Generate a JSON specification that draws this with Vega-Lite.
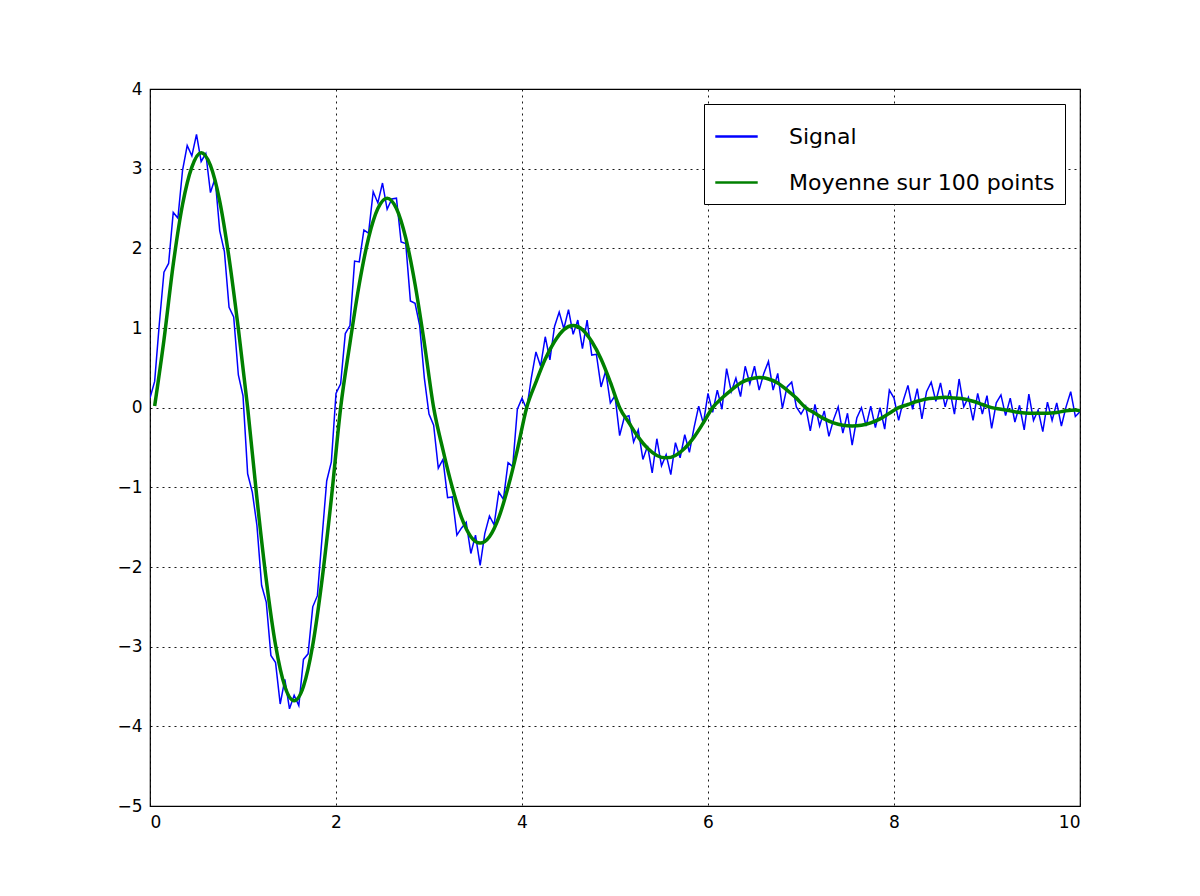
{
  "$schema": "https://vega.github.io/schema/vega-lite/v6.json",
  "autosize": "none",
  "width": 930,
  "height": 717,
  "padding": {"left": 150, "top": 89, "right": 120, "bottom": 90},
  "background": "white",
  "config": {
    "view": {"stroke": "black", "strokeWidth": 1.2},
    "font": "DejaVu Sans",
    "axis": {
      "labelFont": "DejaVu Sans", "labelFontSize": 17, "labelColor": "black",
      "domain": false, "ticks": false, "labelPadding": 8,
      "grid": true, "gridColor": "black", "gridDash": [2, 4], "gridOpacity": 0.9,
      "title": null
    }
  },
  "datasets": {
    "signal": [
      {"t":0,"v":0.12},{"t":0.05,"v":0.33},{"t":0.1,"v":1.05},{"t":0.15,"v":1.70},{"t":0.2,"v":1.81},{"t":0.25,"v":2.45},{"t":0.3,"v":2.38},{"t":0.35,"v":2.98},{"t":0.4,"v":3.29},{"t":0.45,"v":3.16},{"t":0.5,"v":3.43},{"t":0.55,"v":3.09},{"t":0.6,"v":3.19},{"t":0.65,"v":2.70},{"t":0.7,"v":2.88},{"t":0.75,"v":2.22},{"t":0.8,"v":1.96},{"t":0.85,"v":1.26},{"t":0.9,"v":1.14},{"t":0.95,"v":0.41},
      {"t":1.0,"v":0.15},{"t":1.05,"v":-0.83},{"t":1.1,"v":-1.06},{"t":1.15,"v":-1.48},{"t":1.2,"v":-2.23},{"t":1.25,"v":-2.44},{"t":1.3,"v":-3.11},{"t":1.35,"v":-3.2},{"t":1.4,"v":-3.72},{"t":1.45,"v":-3.41},{"t":1.5,"v":-3.78},{"t":1.55,"v":-3.61},{"t":1.6,"v":-3.74},{"t":1.65,"v":-3.16},{"t":1.7,"v":-3.09},{"t":1.75,"v":-2.5},{"t":1.8,"v":-2.36},{"t":1.85,"v":-1.63},{"t":1.9,"v":-0.92},{"t":1.95,"v":-0.68},
      {"t":2.0,"v":0.18},{"t":2.05,"v":0.30},{"t":2.1,"v":0.93},{"t":2.15,"v":1.03},{"t":2.2,"v":1.84},{"t":2.25,"v":1.83},{"t":2.3,"v":2.23},{"t":2.35,"v":2.19},{"t":2.4,"v":2.71},{"t":2.45,"v":2.57},{"t":2.5,"v":2.82},{"t":2.55,"v":2.49},{"t":2.6,"v":2.62},{"t":2.65,"v":2.63},{"t":2.7,"v":2.08},{"t":2.75,"v":2.06},{"t":2.8,"v":1.34},{"t":2.85,"v":1.31},{"t":2.9,"v":1.03},{"t":2.95,"v":0.37},
      {"t":3.0,"v":-0.08},{"t":3.05,"v":-0.22},{"t":3.1,"v":-0.76},{"t":3.15,"v":-0.65},{"t":3.2,"v":-1.13},{"t":3.25,"v":-1.12},{"t":3.3,"v":-1.6},{"t":3.35,"v":-1.51},{"t":3.4,"v":-1.44},{"t":3.45,"v":-1.83},{"t":3.5,"v":-1.6},{"t":3.55,"v":-1.98},{"t":3.6,"v":-1.58},{"t":3.65,"v":-1.36},{"t":3.7,"v":-1.47},{"t":3.75,"v":-1.06},{"t":3.8,"v":-1.15},{"t":3.85,"v":-0.69},{"t":3.9,"v":-0.74},{"t":3.95,"v":-0.02},
      {"t":4.0,"v":0.12},{"t":4.05,"v":-0.02},{"t":4.1,"v":0.37},{"t":4.15,"v":0.70},{"t":4.2,"v":0.52},{"t":4.25,"v":0.89},{"t":4.3,"v":0.60},{"t":4.35,"v":1.02},{"t":4.4,"v":1.2},{"t":4.45,"v":0.99},{"t":4.5,"v":1.23},{"t":4.55,"v":0.92},{"t":4.6,"v":1.10},{"t":4.65,"v":0.74},{"t":4.7,"v":1.10},{"t":4.75,"v":0.66},{"t":4.8,"v":0.67},{"t":4.85,"v":0.26},{"t":4.9,"v":0.46},{"t":4.95,"v":0.06},
      {"t":5.0,"v":0.15},{"t":5.05,"v":-0.35},{"t":5.1,"v":-0.12},{"t":5.15,"v":-0.10},{"t":5.2,"v":-0.43},{"t":5.25,"v":-0.28},{"t":5.3,"v":-0.65},{"t":5.35,"v":-0.48},{"t":5.4,"v":-0.82},{"t":5.45,"v":-0.39},{"t":5.5,"v":-0.73},{"t":5.55,"v":-0.59},{"t":5.6,"v":-0.84},{"t":5.65,"v":-0.44},{"t":5.7,"v":-0.63},{"t":5.75,"v":-0.34},{"t":5.8,"v":-0.56},{"t":5.85,"v":-0.25},{"t":5.9,"v":0.02},{"t":5.95,"v":-0.20},
      {"t":6.0,"v":0.18},{"t":6.05,"v":-0.06},{"t":6.1,"v":0.22},{"t":6.15,"v":-0.02},{"t":6.2,"v":0.49},{"t":6.25,"v":0.20},{"t":6.3,"v":0.37},{"t":6.35,"v":0.14},{"t":6.4,"v":0.52},{"t":6.45,"v":0.30},{"t":6.5,"v":0.52},{"t":6.55,"v":0.22},{"t":6.6,"v":0.43},{"t":6.65,"v":0.58},{"t":6.7,"v":0.22},{"t":6.75,"v":0.43},{"t":6.8,"v":-0.01},{"t":6.85,"v":0.26},{"t":6.9,"v":0.32},{"t":6.95,"v":0.01},
      {"t":7.0,"v":-0.08},{"t":7.05,"v":0.02},{"t":7.1,"v":-0.29},{"t":7.15,"v":0.04},{"t":7.2,"v":-0.23},{"t":7.25,"v":-0.04},{"t":7.3,"v":-0.36},{"t":7.35,"v":-0.15},{"t":7.4,"v":0.01},{"t":7.45,"v":-0.32},{"t":7.5,"v":-0.07},{"t":7.55,"v":-0.47},{"t":7.6,"v":-0.13},{"t":7.65,"v":0},{"t":7.7,"v":-0.23},{"t":7.75,"v":0.02},{"t":7.8,"v":-0.25},{"t":7.85,"v":0},{"t":7.9,"v":-0.27},{"t":7.95,"v":0.22},
      {"t":8.0,"v":0.12},{"t":8.05,"v":-0.16},{"t":8.1,"v":0.09},{"t":8.15,"v":0.28},{"t":8.2,"v":-0.02},{"t":8.25,"v":0.24},{"t":8.3,"v":-0.14},{"t":8.35,"v":0.2},{"t":8.4,"v":0.32},{"t":8.45,"v":0.08},{"t":8.5,"v":0.31},{"t":8.55,"v":0.01},{"t":8.6,"v":0.22},{"t":8.65,"v":-0.08},{"t":8.7,"v":0.36},{"t":8.75,"v":0.01},{"t":8.8,"v":0.13},{"t":8.85,"v":-0.16},{"t":8.9,"v":0.18},{"t":8.95,"v":-0.08},
      {"t":9.0,"v":0.15},{"t":9.05,"v":-0.26},{"t":9.1,"v":0.06},{"t":9.15,"v":0.16},{"t":9.2,"v":-0.10},{"t":9.25,"v":0.12},{"t":9.3,"v":-0.18},{"t":9.35,"v":0.03},{"t":9.4,"v":-0.28},{"t":9.45,"v":0.17},{"t":9.5,"v":-0.16},{"t":9.55,"v":-0.03},{"t":9.6,"v":-0.30},{"t":9.65,"v":0.07},{"t":9.7,"v":-0.16},{"t":9.75,"v":0.06},{"t":9.8,"v":-0.23},{"t":9.85,"v":0.01},{"t":9.9,"v":0.20},{"t":9.95,"v":-0.11},{"t":10,"v":-0.05}
    ],
    "moyenne": [
      {"t":0.05,"v":0.02},{"t":0.15,"v":0.85},{"t":0.25,"v":1.8},{"t":0.35,"v":2.55},{"t":0.45,"v":3.02},{"t":0.55,"v":3.2},{"t":0.65,"v":3.04},{"t":0.75,"v":2.59},{"t":0.85,"v":1.88},{"t":0.95,"v":0.99},
      {"t":1.05,"v":0},{"t":1.15,"v":-1.14},{"t":1.25,"v":-2.16},{"t":1.35,"v":-2.98},{"t":1.45,"v":-3.5},{"t":1.55,"v":-3.68},{"t":1.65,"v":-3.5},{"t":1.75,"v":-2.98},{"t":1.85,"v":-2.16},{"t":1.95,"v":-1.14},
      {"t":2.05,"v":0},{"t":2.15,"v":0.81},{"t":2.25,"v":1.55},{"t":2.35,"v":2.13},{"t":2.45,"v":2.5},{"t":2.55,"v":2.63},{"t":2.65,"v":2.5},{"t":2.75,"v":2.13},{"t":2.85,"v":1.55},{"t":2.95,"v":0.81},
      {"t":3.05,"v":0},{"t":3.15,"v":-0.53},{"t":3.25,"v":-1.0},{"t":3.35,"v":-1.38},{"t":3.45,"v":-1.62},{"t":3.55,"v":-1.7},{"t":3.65,"v":-1.62},{"t":3.75,"v":-1.38},{"t":3.85,"v":-1.0},{"t":3.95,"v":-0.53},
      {"t":4.05,"v":0},{"t":4.15,"v":0.32},{"t":4.25,"v":0.61},{"t":4.35,"v":0.83},{"t":4.45,"v":0.98},{"t":4.55,"v":1.03},{"t":4.65,"v":0.98},{"t":4.75,"v":0.83},{"t":4.85,"v":0.61},{"t":4.95,"v":0.32},
      {"t":5.05,"v":0},{"t":5.15,"v":-0.19},{"t":5.25,"v":-0.37},{"t":5.35,"v":-0.51},{"t":5.45,"v":-0.6},{"t":5.55,"v":-0.63},{"t":5.65,"v":-0.6},{"t":5.75,"v":-0.51},{"t":5.85,"v":-0.37},{"t":5.95,"v":-0.19},
      {"t":6.05,"v":0},{"t":6.15,"v":0.12},{"t":6.25,"v":0.22},{"t":6.35,"v":0.31},{"t":6.45,"v":0.36},{"t":6.55,"v":0.38},{"t":6.65,"v":0.36},{"t":6.75,"v":0.31},{"t":6.85,"v":0.22},{"t":6.95,"v":0.12},
      {"t":7.05,"v":0},{"t":7.15,"v":-0.07},{"t":7.25,"v":-0.14},{"t":7.35,"v":-0.19},{"t":7.45,"v":-0.22},{"t":7.55,"v":-0.23},{"t":7.65,"v":-0.22},{"t":7.75,"v":-0.19},{"t":7.85,"v":-0.14},{"t":7.95,"v":-0.07},
      {"t":8.05,"v":0},{"t":8.15,"v":0.04},{"t":8.25,"v":0.08},{"t":8.35,"v":0.11},{"t":8.45,"v":0.12},{"t":8.55,"v":0.13},{"t":8.65,"v":0.12},{"t":8.75,"v":0.11},{"t":8.85,"v":0.08},{"t":8.95,"v":0.04},
      {"t":9.05,"v":0},{"t":9.15,"v":-0.02},{"t":9.25,"v":-0.04},{"t":9.35,"v":-0.06},{"t":9.45,"v":-0.07},{"t":9.55,"v":-0.07},{"t":9.65,"v":-0.07},{"t":9.75,"v":-0.06},{"t":9.85,"v":-0.04},{"t":9.95,"v":-0.03},
      {"t":10,"v":-0.04}
    ]
  },
  "encoding": {
    "x": {"field": "t", "type": "quantitative", "scale": {"domain": [0, 10], "nice": false},
          "axis": {"values": [0, 2, 4, 6, 8, 10], "labelExpr": "replace(datum.label, '-', '−')"}},
    "y": {"field": "v", "type": "quantitative", "scale": {"domain": [-5, 4], "nice": false},
          "axis": {"values": [-5, -4, -3, -2, -1, 0, 1, 2, 3, 4], "labelExpr": "replace(datum.label, '-', '−')"}}
  },
  "layer": [
    {
      "data": {"name": "signal"},
      "mark": {"type": "line", "strokeWidth": 1.5, "clip": true},
      "encoding": {
        "color": {"datum": "Signal", "type": "nominal",
          "scale": {"domain": ["Signal", "Moyenne sur 100 points"], "range": ["#0000ff", "#008000"]},
          "legend": {"orient": "top-right", "offset": 15, "title": null, "labelFontSize": 22, "labelFont": "DejaVu Sans",
            "labelColor": "black", "labelLimit": 600, "symbolType": "stroke", "symbolSize": 1800, "symbolStrokeWidth": 2.5,
            "strokeColor": "black", "fillColor": "white", "padding": 10, "rowPadding": 12, "labelOffset": 30, "cornerRadius": 0}}
      }
    },
    {
      "data": {"name": "moyenne"},
      "mark": {"type": "line", "strokeWidth": 3.5, "interpolate": "monotone", "clip": true},
      "encoding": {"color": {"datum": "Moyenne sur 100 points", "type": "nominal"}}
    }
  ]
}
